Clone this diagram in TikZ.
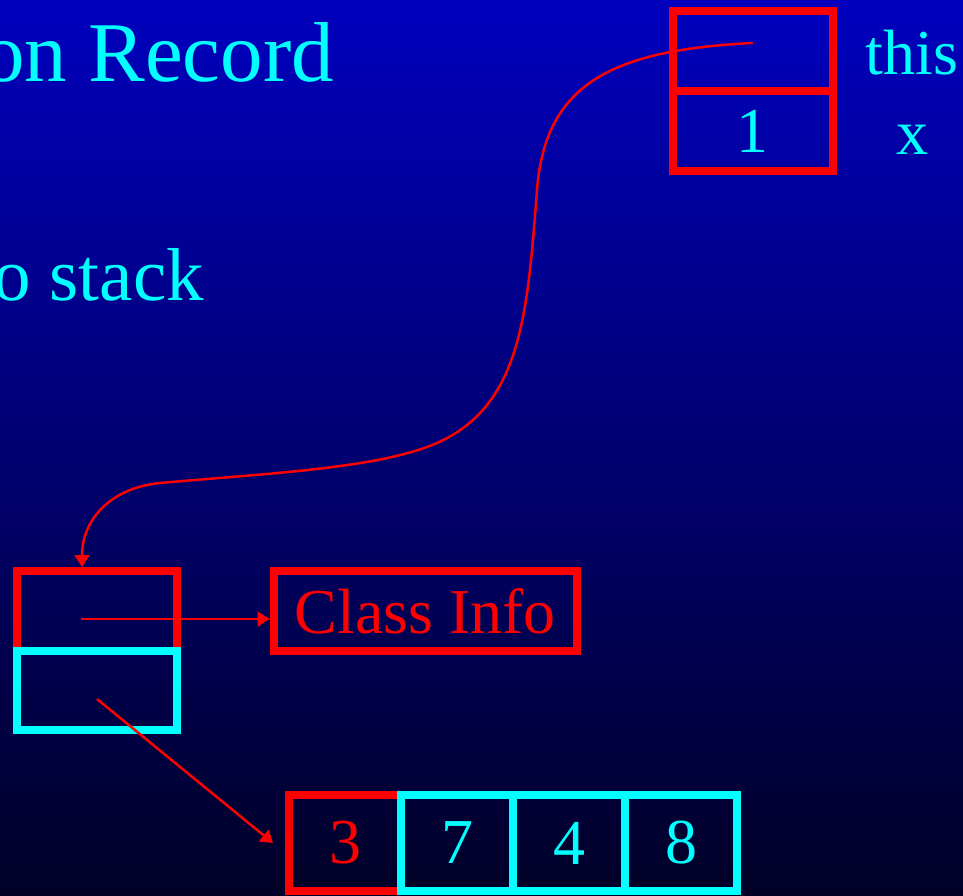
\documentclass[tikz,border=0pt]{standalone}
\usepackage{fontspec}
\setmainfont{Liberation Serif}
\usetikzlibrary{arrows.meta,calc}
\definecolor{bgtop}{RGB}{0,0,190}
\definecolor{bgbot}{RGB}{0,0,38}
\definecolor{cy}{RGB}{0,255,255}
\definecolor{rd}{RGB}{255,0,0}
\begin{document}
\begin{tikzpicture}[x=1pt,y=-1pt,
  cell/.style={rectangle, draw, line width=8pt, inner sep=0pt,
    font=\fontsize{64}{70}\selectfont},
  rcell/.style={cell, draw=rd, minimum width=160pt, minimum height=80pt, text=cy},
  ccell/.style={cell, draw=cy, minimum width=160pt, minimum height=79pt, text=cy},
  acell/.style={cell, minimum width=112pt, minimum height=96pt},
  lbl/.style={inner sep=0pt, text=cy, font=\fontsize{64}{70}\selectfont},
  ttl/.style={inner sep=0pt, text=cy},
  conn/.style={draw=rd, line width=2.5pt, -{Triangle[length=12pt,width=15pt]}}]
\useasboundingbox (0,0) rectangle (963,896);
\shade[top color=bgtop, bottom color=bgbot] (0,0) rectangle (963,896);
\clip (0,0) rectangle (963,896);

% title fragments
\node[ttl, anchor=base east, font=\fontsize{85}{90}\selectfont] (t1) at (334,82) {on Record};
\node[ttl, anchor=base east, font=\fontsize{75}{80}\selectfont] (t2) at (204,300) {o stack};

% activation record (top right)
\node[rcell, minimum width=159.5pt] (thisc) at (752.75,51) {};
\node[rcell, minimum width=159.5pt] (xc) at (752.75,131) {1};
\node[lbl, anchor=base] (lthis) at (912,75) {this};
\node[lbl, anchor=base] (lx) at (912,155) {x};

% object (lower left)
\node[rcell] (objref) at (97,611) {};
\node[ccell] (arrref) at (97,690.5) {};

% class info
\node[rcell, minimum width=303.5pt, text=rd] (cinfo) at (425.25,611) {Class Info};

% array
\node[acell, draw=rd, text=rd] (a3) at (345,843) {3};
\node[acell, draw=cy, text=cy] (a7) at (457,843) {7};
\node[acell, draw=cy, text=cy] (a4) at (569,843) {4};
\node[acell, draw=cy, text=cy] (a8) at (681,843) {8};

% connectors
\draw[conn] ($(thisc.center)+(0,-8)$) .. controls (610,50) and (545,85) .. (537,190)
  .. controls (527,320) and (520.6,412.6) .. (427,447)
  .. controls (367,469) and (260,474) .. (160,483)
  .. controls (110,488) and (82,520) .. ($(objref.north)+(-15,0)$);
\coordinate (hs) at ($(objref.center)+(-16,8)$);
\draw[conn] (hs) -- (hs -| cinfo.west);
\draw[conn] ($(arrref.center)+(0,8.5)$) -- ($(a3.west)+(-12,0)$);
\end{tikzpicture}
\end{document}
